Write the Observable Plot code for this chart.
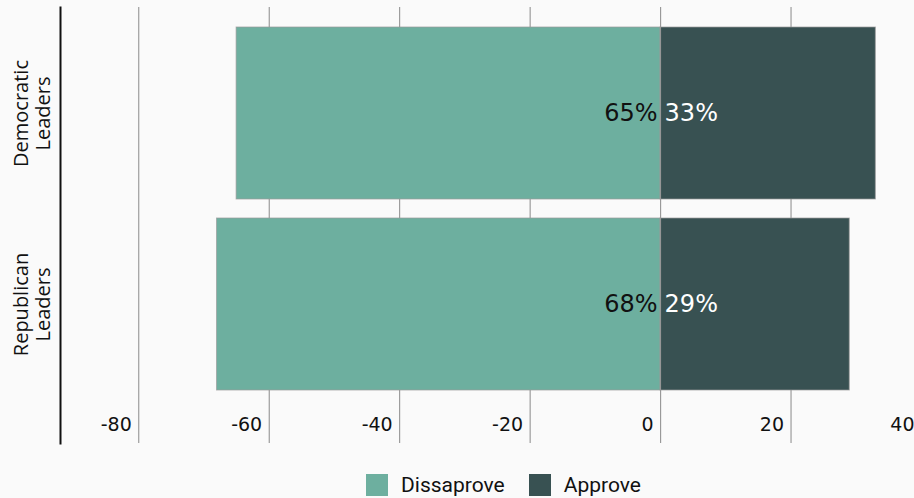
<!DOCTYPE html>
<html>
<head>
<meta charset="utf-8">
<script src="https://cdn.jsdelivr.net/npm/d3@7"></script>
<script src="https://cdn.jsdelivr.net/npm/@observablehq/plot@0.6"></script>
<style>
  html, body { margin: 0; padding: 0; background: #fafafa; }
  #chart { width: 914px; overflow: hidden; }
  #chart svg { display: block; background: transparent; }
  #legend { margin-left: 366px; margin-top: 6px; }
  .lg-swatches { font-family: Roboto, sans-serif !important; font-size: 21px !important; color: #111; }
  .lg-swatch { margin-right: 24px !important; }
  .lg-swatch > svg { margin-right: 13px !important; }
</style>
</head>
<body>
<div id="chart"></div>
<div id="legend"></div>
<script>
// Survey groups and their shares (percent)
const groups = ["Democratic Leaders", "Republican Leaders"];
const groupLabels = ["Democratic\nLeaders", "Republican\nLeaders"];
const responses = ["Dissaprove", "Approve"];
const dissaprove = [65, 68];
const approve = [33, 29];
const xTicks = [-80, -60, -40, -20, 0, 20, 40];
const colors = ["#6daf9f", "#385152"];

// Long table: disapproval extends left of zero, approval right
const rows = groups.flatMap((g, i) => [
  {group: g, response: responses[0], value: dissaprove[i], signed: -dissaprove[i]},
  {group: g, response: responses[1], value: approve[i], signed: approve[i]}
]);
const labels = groups.map((g, i) => ({group: g, label: groupLabels[i]}));

const W = 914, H = 462;
const plot = Plot.plot({
  width: W,
  height: H,
  marginTop: 7,
  marginBottom: H - 443,
  marginLeft: 60,
  marginRight: 0,
  style: {background: "transparent", overflow: "visible"},
  x: {domain: [-92, 40], range: [60, 921], axis: null},
  y: {domain: groups, range: [7, 410], padding: 0.1, axis: null},
  color: {domain: responses, range: colors},
  marks: [
    Plot.ruleX(xTicks, {x: d => d, stroke: "#8a8a8a", strokeWidth: 1}),
    Plot.barX(rows, {
      y: "group", x1: "signed", x2: 0, fill: "response",
      stroke: "#9a9a9a", strokeWidth: 1, strokeOpacity: 0.7, inset: 0
    }),
    Plot.ruleX([0], {stroke: "#9a9a9a", strokeWidth: 1}),
    Plot.text(rows.filter(d => d.response === responses[0]), {
      y: "group", x: 0, text: d => `${d.value}%`, textAnchor: "end", dx: -3,
      fill: "#111", fontSize: 24, fontFamily: "DejaVu Sans"
    }),
    Plot.text(rows.filter(d => d.response === responses[1]), {
      y: "group", x: 0, text: d => `${d.value}%`, textAnchor: "start", dx: 4,
      fill: "#ffffff", fontSize: 24, fontFamily: "DejaVu Sans"
    }),
    Plot.text(xTicks, {
      x: d => d, text: d => String(d), frameAnchor: "bottom",
      textAnchor: "end", dx: -7, dy: -13,
      fill: "#111", fontSize: 19, fontFamily: "DejaVu Sans"
    }),
    Plot.text(labels, {
      y: "group", text: "label", frameAnchor: "left", rotate: -90,
      textAnchor: "middle", lineAnchor: "middle", dx: -29, lineHeight: 1.1,
      fill: "#111", fontSize: 20, fontFamily: "Open Sans"
    }),
    Plot.frame({anchor: "left", stroke: "#111", strokeWidth: 2})
  ]
});
document.getElementById("chart").append(plot);

const legend = plot.legend("color", {swatchSize: 22, className: "lg"});
document.getElementById("legend").append(legend);
</script>
</body>
</html>
